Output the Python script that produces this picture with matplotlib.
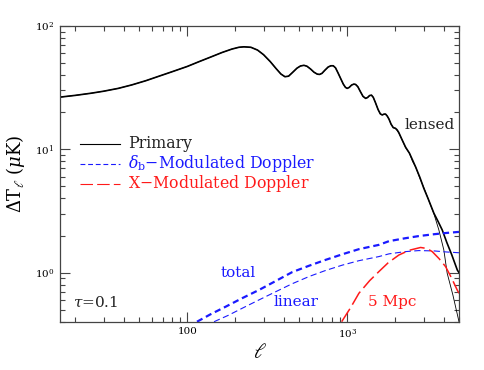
import matplotlib
matplotlib.use("Agg")
import matplotlib.pyplot as plt
from matplotlib.ticker import FixedLocator, FixedFormatter, LogLocator, NullFormatter

plt.rcParams["font.family"] = ["DejaVu Serif"]
plt.rcParams["mathtext.fontset"] = "dejavuserif"
plt.rcParams["lines.scale_dashes"] = False

BLUE = "#1a1aff"
RED = "#ff1a1a"

# primary anisotropy, lensed (thick)
ell_lensed = [16, 20, 25, 30, 37, 45, 55, 67, 80, 100, 118, 140, 165, 190, 210,
              226, 250, 275, 300, 330, 360, 385, 408, 430, 455, 485, 510, 536,
              560, 590, 620, 650, 672, 695, 725, 760, 790, 818, 845, 875, 910,
              945, 975, 1000, 1030, 1065, 1100, 1128, 1165, 1210, 1255, 1303,
              1340, 1380, 1418, 1455, 1500, 1560, 1610, 1655, 1700, 1737, 1780,
              1824, 1880, 1940, 2003,
              2050, 2100, 2200, 2318, 2450, 2560, 2677, 2850, 3012, 3200, 3484,
              3700, 3926, 4200, 4500, 4880, 5000]
T_lensed = [26.5, 27.4, 28.5, 29.6, 31.2, 33.3, 36.0, 39.3, 42.5, 47.0, 51.3,
            56.0, 61.0, 65.0, 67.2, 67.8, 67.2, 63.8, 58.5, 51.5, 45.0, 40.8,
            38.8, 39.2, 42.0, 45.5, 47.4, 48.0, 47.2, 44.8, 42.2, 40.7, 40.5,
            41.3, 43.8, 46.5, 47.6, 47.6, 45.8, 41.8, 37.5, 33.8, 31.8, 31.2,
            31.8, 33.2, 33.8, 33.6, 32.2, 29.3, 26.9, 25.9, 26.3, 27.3, 27.5,
            26.4, 24.0, 21.0, 19.4, 19.0, 19.3, 19.3, 18.6, 17.6, 16.0, 15.0,
            14.8,
            14.4, 13.7, 12.0, 10.4, 9.3, 8.2, 7.2, 5.9, 4.83, 4.0, 3.03, 2.6,
            2.22, 1.75, 1.4, 1.05, 1.0]

# primary, unlensed (thin) -- same as lensed up to l~2000, then the damping tail
n_shared = 67
ell_unlensed = ell_lensed[:n_shared] + [2100, 2200, 2318, 2450, 2560, 2677,
                                        2850, 3012, 3200, 3484, 3741, 4018,
                                        4217, 4577, 5000]
T_unlensed = T_lensed[:n_shared] + [13.6, 12.0, 10.3, 9.3, 8.0, 7.2, 5.8, 4.9,
                                    4.0, 3.0, 2.22, 1.53, 0.99, 0.66, 0.40]

# delta_b modulated Doppler: total (thick) and linear (thin)
ell_total = [115, 140, 174, 220, 281, 360, 453, 580, 733, 950, 1183, 1578, 1824,
             2300, 2805, 3500, 4200, 5000]
T_total = [0.40, 0.46, 0.53, 0.62, 0.724, 0.86, 1.01, 1.14, 1.27, 1.42, 1.55,
           1.68, 1.80, 1.90, 1.98, 2.05, 2.10, 2.14]

ell_linear = [147, 180, 221, 280, 357, 450, 577, 730, 931, 1183, 1578, 1824,
              2300, 2805, 3500, 4200, 5000]
T_linear = [0.40, 0.45, 0.515, 0.60, 0.70, 0.81, 0.93, 1.04, 1.15, 1.25, 1.35,
            1.42, 1.48, 1.51, 1.50, 1.47, 1.45]

# X modulated Doppler, 5 Mpc patches
ell_x = [923, 1050, 1183, 1380, 1578, 1800, 2104, 2450, 2876, 3150, 3403, 3750,
         4120, 4500, 4880, 5000]
T_x = [0.40, 0.52, 0.68, 0.86, 1.02, 1.20, 1.39, 1.52, 1.60, 1.57, 1.48, 1.30,
       1.12, 0.90, 0.72, 0.68]

legend_labels = ["Primary", r"$\delta_{\rm b}$$-$Modulated Doppler",
                 r"X$-$Modulated Doppler"]

fig = plt.figure(figsize=(4.85, 3.7), dpi=100)
ax = fig.add_axes([0.1237, 0.1305, 0.8227, 0.7992])

ax.plot(ell_unlensed, T_unlensed, color="black", lw=0.6)
ax.plot(ell_lensed, T_lensed, color="black", lw=1.2)
ax.plot(ell_total, T_total, color=BLUE, lw=1.6, dashes=(4.5, 2.8))
ax.plot(ell_linear, T_linear, color=BLUE, lw=0.8, dashes=(4.5, 2.5))
ax.plot(ell_x, T_x, color=RED, lw=1.1, dashes=(11, 3.5))

ax.set_xscale("log")
ax.set_yscale("log")
ax.set_xlim(16, 5000)
ax.set_ylim(0.4, 100)

ax.xaxis.set_major_locator(FixedLocator([100, 1000]))
ax.xaxis.set_major_formatter(FixedFormatter(["100", r"$10^3$"]))
ax.xaxis.set_minor_locator(LogLocator(base=10, subs=range(2, 10)))
ax.xaxis.set_minor_formatter(NullFormatter())
ax.yaxis.set_major_locator(FixedLocator([1, 10, 100]))
ax.yaxis.set_major_formatter(FixedFormatter([r"$10^0$", r"$10^1$", r"$10^2$"]))
ax.yaxis.set_minor_locator(LogLocator(base=10, subs=range(2, 10)))
ax.yaxis.set_minor_formatter(NullFormatter())

ax.tick_params(which="both", direction="in", top=True, right=True,
               color="#444444", labelsize=7.5, width=0.8)
ax.tick_params(which="major", length=7, pad=4)
ax.tick_params(which="minor", length=3.5)
for s in ax.spines.values():
    s.set_color("#444444")
    s.set_linewidth(0.9)

ax.set_xlabel(r"$\ell$", fontsize=15, labelpad=2)
ax.set_ylabel(r"$\Delta\mathrm{T}_\ell\ (\mu\mathrm{K})$", fontsize=13, labelpad=6)

# hand-placed legend (rows closer than ax.legend gives with the mathtext row)
leg_styles = [dict(color="black"), dict(color=BLUE, dashes=(3.5, 2)),
              dict(color=RED, dashes=(9, 3))]
leg_colors = ["#222222", BLUE, RED]
for i, (lab, sty, col) in enumerate(zip(legend_labels, leg_styles, leg_colors)):
    yy = 0.601 - 0.0675 * i
    ax.plot([0.05, 0.15], [yy, yy], transform=ax.transAxes, lw=0.8, **sty)
    ax.text(0.170, yy, lab, transform=ax.transAxes, fontsize=11.3, color=col,
            ha="left", va="center")

ax.text(0.927, 0.666, "lensed", transform=ax.transAxes, fontsize=11,
        color="#222222", ha="center", va="center")
ax.text(0.446, 0.166, "total", transform=ax.transAxes, fontsize=11,
        color=BLUE, ha="center", va="center")
ax.text(0.591, 0.065, "linear", transform=ax.transAxes, fontsize=11,
        color=BLUE, ha="center", va="center")
ax.text(0.832, 0.065, "5 Mpc", transform=ax.transAxes, fontsize=11,
        color=RED, ha="center", va="center")
ax.text(0.033, 0.065, r"$\tau$=0.1", transform=ax.transAxes, fontsize=11,
        color="#222222", ha="left", va="center")

fig.savefig("out.png", dpi=100)
